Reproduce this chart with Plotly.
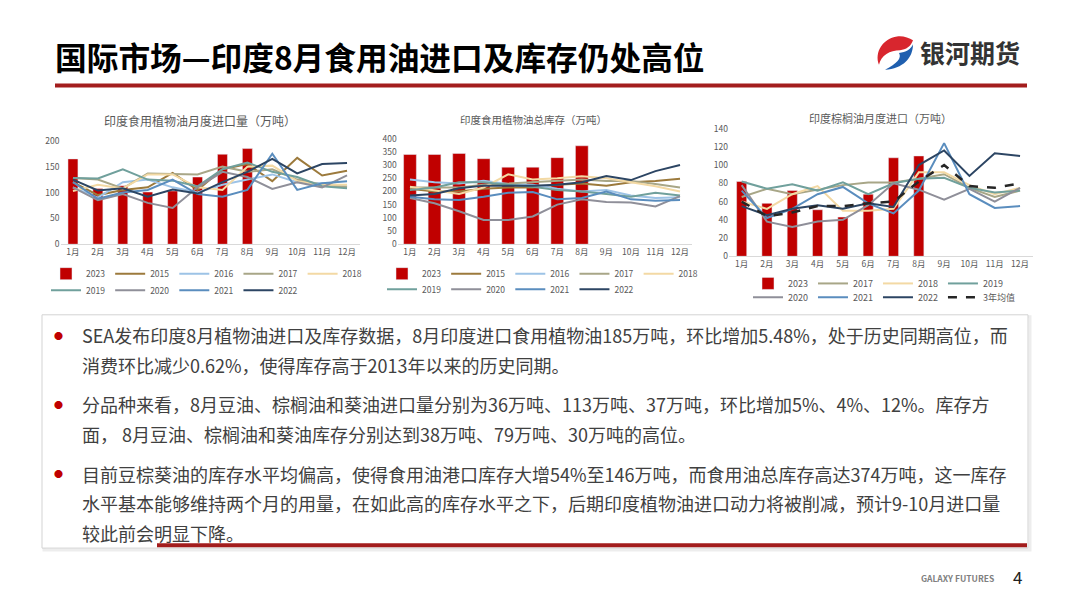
import plotly.graph_objects as go

W, H = 1080, 608
FONT = "Noto Sans CJK SC"


def X(px):
    return px / W


def Y(py):
    return 1 - py / H


months = ["1月", "2月", "3月", "4月", "5月", "6月", "7月", "8月", "9月", "10月", "11月", "12月"]

# ---- chart 1: India edible vegetable oil monthly imports (10k t)
imp_2023 = [165, 108, 113, 101, 103, 130, 174, 185]
imp_2015 = [120, 95, 105, 110, 138, 105, 145, 155, 122, 167, 133, 142]
imp_2016 = [110, 90, 120, 125, 110, 100, 115, 125, 135, 120, 118, 112]
imp_2017 = [128, 125, 108, 137, 136, 135, 150, 140, 145, 125, 115, 110]
imp_2018 = [103, 115, 108, 135, 135, 110, 105, 150, 152, 122, 115, 115]
imp_2019 = [128, 127, 145, 125, 123, 112, 145, 158, 140, 130, 112, 108]
imp_2020 = [110, 85, 97, 80, 70, 110, 140, 130, 107, 120, 110, 133]
imp_2021 = [120, 88, 100, 105, 125, 97, 92, 105, 175, 105, 118, 122]
imp_2022 = [125, 104, 108, 92, 106, 98, 120, 140, 165, 137, 155, 157]

# ---- chart 2: India edible vegetable oil total stocks (10k t)
stk_2023 = [340, 340, 344, 324, 292, 292, 328, 373]
stk_2015 = [210, 200, 200, 210, 215, 215, 225, 230, 222, 235, 240, 248]
stk_2016 = [245, 235, 230, 240, 228, 225, 210, 200, 205, 185, 175, 178]
stk_2017 = [215, 215, 215, 225, 230, 235, 240, 245, 240, 240, 228, 215]
stk_2018 = [218, 205, 190, 215, 265, 245, 250, 258, 250, 235, 220, 200]
stk_2019 = [205, 215, 235, 235, 225, 218, 205, 200, 190, 180, 195, 185]
stk_2020 = [175, 155, 125, 92, 92, 105, 150, 170, 160, 158, 143, 182]
stk_2021 = [180, 170, 168, 180, 195, 198, 170, 175, 200, 170, 165, 168]
stk_2022 = [185, 190, 212, 222, 222, 222, 225, 235, 258, 243, 277, 300]

# ---- chart 3: India palm oil monthly imports (10k t)
palm_2023 = [82, 58, 72, 51, 43, 68, 108, 110]
palm_2017 = [65, 74, 68, 73, 78, 81, 81, 85, 90, 75, 65, 72]
palm_2018 = [60, 52, 68, 77, 50, 50, 52, 92, 92, 78, 68, 75]
palm_2019 = [82, 74, 79, 72, 81, 68, 80, 85, 86, 75, 70, 72]
palm_2020 = [78, 38, 32, 38, 40, 56, 80, 73, 62, 74, 60, 75]
palm_2021 = [72, 42, 52, 68, 76, 58, 47, 72, 124, 68, 53, 55]
palm_2022 = [55, 45, 52, 56, 52, 58, 54, 100, 116, 88, 113, 110]
palm_avg3 = [60, 44, 48, 55, 55, 58, 60, 82, 100, 77, 75, 80]

BAR = "#C00000"
C = {
    "2015": "#9C7A3C",
    "2016": "#9DC3E6",
    "2017": "#A8A687",
    "2018": "#F3D9A4",
    "2019": "#70A09C",
    "2020": "#8F8F99",
    "2021": "#5A8DBE",
    "2022": "#2C4563",
}

fig = go.Figure()


def add_bar(y, xa, ya, leg, width):
    fig.add_trace(go.Bar(x=months[:len(y)], y=y, name="2023", marker_color=BAR,
                         width=width, xaxis=xa, yaxis=ya, legend=leg))


def add_line(y, name, xa, ya, leg, color, dash="solid", lw=2):
    fig.add_trace(go.Scatter(x=months, y=y, name=name, mode="lines",
                             line=dict(color=color, width=lw, dash=dash),
                             xaxis=xa, yaxis=ya, legend=leg))


# chart 1
add_bar(imp_2023, "x", "y", "legend", 0.4)
for nm, arr in [("2015", imp_2015), ("2016", imp_2016), ("2017", imp_2017), ("2018", imp_2018)]:
    add_line(arr, nm, "x", "y", "legend", C[nm])
for nm, arr in [("2019", imp_2019), ("2020", imp_2020), ("2021", imp_2021), ("2022", imp_2022)]:
    add_line(arr, nm, "x", "y", "legend2", C[nm])

# chart 2
add_bar(stk_2023, "x2", "y2", "legend3", 0.52)
for nm, arr in [("2015", stk_2015), ("2016", stk_2016), ("2017", stk_2017), ("2018", stk_2018)]:
    add_line(arr, nm, "x2", "y2", "legend3", C[nm])
for nm, arr in [("2019", stk_2019), ("2020", stk_2020), ("2021", stk_2021), ("2022", stk_2022)]:
    add_line(arr, nm, "x2", "y2", "legend4", C[nm])

# chart 3
add_bar(palm_2023, "x3", "y3", "legend5", 0.4)
for nm, arr in [("2017", palm_2017), ("2018", palm_2018), ("2019", palm_2019)]:
    add_line(arr, nm, "x3", "y3", "legend5", C[nm])
for nm, arr in [("2020", palm_2020), ("2021", palm_2021), ("2022", palm_2022)]:
    add_line(arr, nm, "x3", "y3", "legend6", C[nm])
add_line(palm_avg3, "3年均值", "x3", "y3", "legend6", "#262626", dash="dash", lw=2.5)

TICK = dict(size=8.5, color="#595959", family=FONT)


def xax(x0, x1, anchor):
    return dict(domain=[X(x0), X(x1)], anchor=anchor, type="category",
                categoryorder="array", categoryarray=months, range=[-0.5, 11.5],
                showline=True, linecolor="#D9D9D9", linewidth=1, ticks="",
                showgrid=False, zeroline=False, tickfont=TICK, fixedrange=True)


def yax(y0, y1, anchor, rng, dtick):
    return dict(domain=[Y(y0), Y(y1)], anchor=anchor, range=rng, dtick=dtick,
                showgrid=False, zeroline=False, showline=False, ticks="",
                tickfont=TICK, fixedrange=True)


def leg(xp, yp, size=8.5):
    return dict(orientation="h", x=X(xp), y=Y(yp), xanchor="left", yanchor="middle",
                font=dict(size=size, color="#595959", family=FONT),
                bgcolor="rgba(0,0,0,0)", itemwidth=30, tracegroupgap=0)


annotations = []


def txt(xp, yp, s, size, color, xanchor="left", weight="normal", family=FONT):
    annotations.append(dict(x=X(xp), y=Y(yp), xref="paper", yref="paper", text=s,
                            showarrow=False, xanchor=xanchor, yanchor="middle",
                            font=dict(size=size, color=color, family=family, weight=weight)))


# header
txt(53, 50, "国际市场—印度8月食用油进口及库存仍处高位", 31.7, "#000000", weight="bold")
txt(918, 46, "银河期货", 25, "#333333", weight="bold")

# chart titles
txt(200, 116, "印度食用植物油月度进口量（万吨）", 12, "#595959", xanchor="center")
txt(533, 115, "印度食用植物油总库存（万吨）", 10.5, "#595959", xanchor="center")
txt(880, 113, "印度棕榈油月度进口（万吨）", 11, "#595959", xanchor="center")

# text body
body_lines = [
    (335, "SEA发布印度8月植物油进口及库存数据，8月印度进口食用植物油185万吨，环比增加5.48%，处于历史同期高位，而", True),
    (365, "消费环比减少0.62%，使得库存高于2013年以来的历史同期。", False),
    (405, "分品种来看，8月豆油、棕榈油和葵油进口量分别为36万吨、113万吨、37万吨，环比增加5%、4%、12%。库存方", True),
    (436, "面， 8月豆油、棕榈油和葵油库存分别达到38万吨、79万吨、30万吨的高位。", False),
    (476, "目前豆棕葵油的库存水平均偏高，使得食用油港口库存大增54%至146万吨，而食用油总库存高达374万吨，这一库存", True),
    (506, "水平基本能够维持两个月的用量，在如此高的库存水平之下，后期印度植物油进口动力将被削减，预计9-10月进口量", False),
    (537, "较此前会明显下降。", False),
]
for yp, s, bullet in body_lines:
    txt(80, yp, s, 18, "#404040")
    if bullet:
        txt(58, yp, "●", 9, "#C00000", xanchor="center")

# footer
txt(957, 582, "GALAXY FUTURES", 8.5, "#808080", xanchor="center", weight="bold")
txt(1018, 581, "4", 17, "#222222", xanchor="center")

shapes = []


def pline(x0, y0, x1, y1, color, w):
    shapes.append(dict(type="line", xref="paper", yref="paper", x0=X(x0), y0=Y(y0),
                       x1=X(x1), y1=Y(y1), line=dict(color=color, width=w)))


def prect(x0, y0, x1, y1, color, w, fill="rgba(0,0,0,0)"):
    shapes.append(dict(type="rect", xref="paper", yref="paper", x0=X(x0), y0=Y(y0),
                       x1=X(x1), y1=Y(y1), line=dict(color=color, width=w), fillcolor=fill,
                       layer="below"))


def ppath(pts, fill):
    d = ""
    for cmd, coords in pts:
        d += cmd
        d += " ".join(f"{X(coords[i]):.5f},{Y(coords[i + 1]):.5f}" for i in range(0, len(coords), 2))
        d += " "
    d += "Z"
    shapes.append(dict(type="path", xref="paper", yref="paper", path=d, fillcolor=fill,
                       line=dict(width=0)))


pline(55, 80, 1027, 80, "#A31D1D", 4)
prect(44, 316, 1030, 554, "#EDEDED", 3)
prect(42, 314, 1028, 552, "#D3D3D3", 1, fill="white")
pline(157, 549, 1027, 549, "#A31D1D", 4)

# logo swirl
ppath([("M", [897, 30]), ("C", [883, 32, 874, 46, 879, 59]),
       ("C", [881, 49, 890, 44, 900, 44]), ("C", [906, 44, 911, 40, 913, 34]),
       ("C", [909, 31, 902, 29, 897, 30])], "#D8262E")
ppath([("M", [913, 38]), ("C", [913, 52, 903, 63, 885, 64]),
       ("C", [897, 58, 902, 52, 899, 47]), ("C", [906, 46, 911, 43, 913, 38])], "#1F5FAF")

fig.update_layout(
    width=W, height=H, margin=dict(l=0, r=0, t=0, b=0),
    paper_bgcolor="white", plot_bgcolor="white",
    font=dict(family=FONT, color="#595959"),
    xaxis=xax(60.5, 359.5, "y"),
    yaxis=yax(242, 136.5, "x", [0, 200], 50),
    xaxis2=xax(397.7, 692.3, "y2"),
    yaxis2=yax(242, 134.3, "x2", [0, 400], 50),
    xaxis3=xax(729, 1032.7, "y3"),
    yaxis3=yax(254.3, 124, "x3", [0, 140], 20),
    legend=leg(46, 272),
    legend2=leg(46, 289),
    legend3=leg(382, 272),
    legend4=leg(382, 288),
    legend5=leg(748, 282, 9),
    legend6=leg(748, 296, 9),
    annotations=annotations,
    shapes=shapes,
    showlegend=True,
    hovermode=False,
)

fig.write_html("out.html")
